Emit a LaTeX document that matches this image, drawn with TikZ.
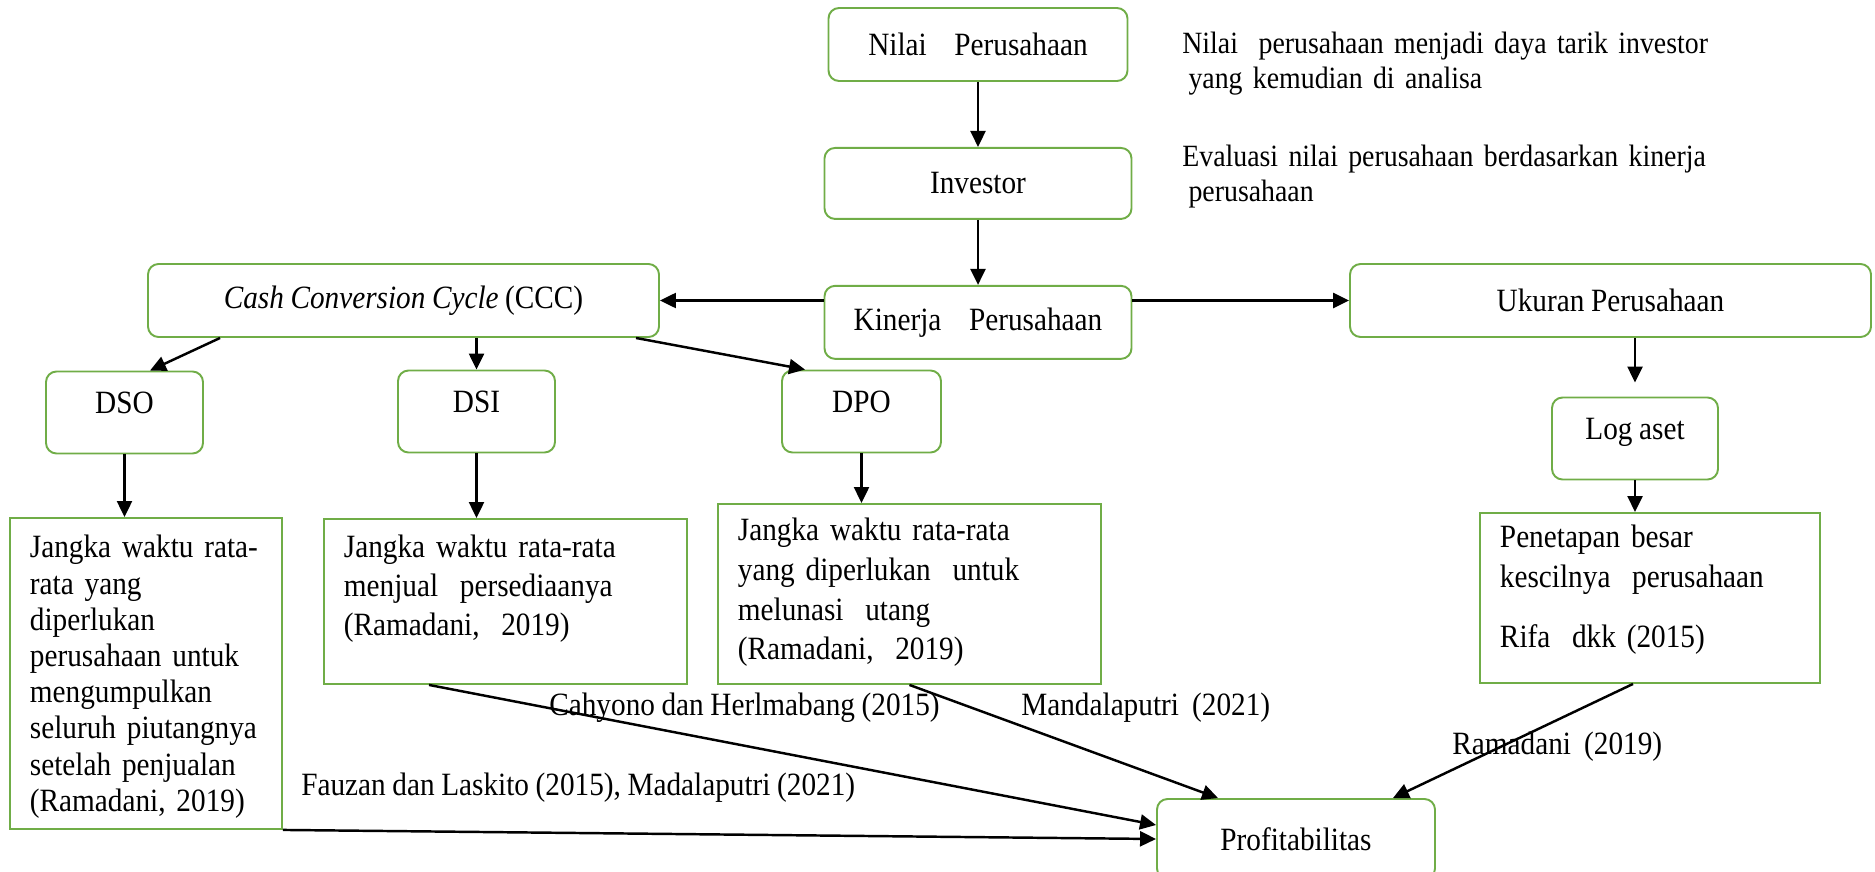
\documentclass[tikz,border=0pt]{standalone}
\usepackage{fontspec}
\setmainfont{Liberation Serif}[FakeStretch=0.9, WordSpace=0.9]
\usepackage{tikz}
\usetikzlibrary{arrows.meta, positioning}
\definecolor{boxgreen}{RGB}{112,173,71}

\begin{document}
\begin{tikzpicture}[
    node distance=1.3cm,
    font=\fontsize{18.5}{20}\selectfont,
    rbox/.style={rectangle, rounded corners=6pt, draw=boxgreen, line width=1.1pt,
                 minimum height=1.46cm, align=center},
    sbox/.style={rbox, inner ysep=0pt, text height=0.84cm, text depth=0.8cm},
    dbox/.style={rectangle, draw=boxgreen, line width=1.1pt, anchor=north west,
                 align=left, inner xsep=0.4cm, inner ysep=0pt},
    note/.style={inner sep=0pt, anchor=west},
    arr/.style={-{Triangle[length=3.2mm, width=3mm]}, line width=1.4pt}
]
\useasboundingbox (0,0) rectangle (37.5,-17.44);
% main column
\node[rbox, minimum width=5.98cm] (nilai) at (19.56,-0.89) {Nilai\hspace{0.85em}Perusahaan};
\node[rbox, minimum width=6.14cm, minimum height=1.42cm, below=of nilai] (investor) {Investor};
\node[rbox, minimum width=6.14cm, below=of investor] (kinerja) {Kinerja\hspace{0.85em}Perusahaan};
\node[rbox, minimum width=10.22cm] (ccc) at (8.07,-6.01) {\textit{Cash Conversion Cycle} (CCC)};
\node[rbox, minimum width=10.42cm] (ukuran) at (32.21,-6.01) {Ukuran Perusahaan};
% indicators
\node[sbox, minimum width=3.14cm] (dso) at (2.49,-8.25) {DSO};
\node[sbox, minimum width=3.14cm] (dsi) at (9.53,-8.23) {DSI};
\node[sbox, minimum width=3.18cm] (dpo) at (17.23,-8.23) {DPO};
\node[sbox, minimum width=3.32cm] (logaset) at (32.7,-8.77) {Log aset};
% descriptions
\node[dbox, text width=4.64cm, text height=0.8cm, text depth=5.42cm,
      font=\fontsize{18.5}{20.6}\selectfont] (dsoket) at (0.18,-10.34)
  {Jangka waktu rata-\\ rata yang\\ diperlukan\\ perusahaan untuk\\ mengumpulkan\\
   seluruh piutangnya\\ setelah penjualan\\ (Ramadani, 2019)};
\node[dbox, text width=6.46cm, text height=0.78cm, text depth=2.52cm,
      font=\fontsize{18.5}{22.1}\selectfont] (dsiket) at (6.46,-10.36)
  {Jangka waktu rata-rata\\ menjual~~persediaanya\\ (Ramadani,~~2019)};
\node[dbox, text width=6.86cm, text height=0.74cm, text depth=2.86cm,
      font=\fontsize{18.5}{22.5}\selectfont] (dpoket) at (14.34,-10.06)
  {Jangka waktu rata-rata\\ yang diperlukan~~untuk\\ melunasi~~utang\\ (Ramadani,~~2019)};
\node[dbox, text width=6.0cm, text height=0.7cm, text depth=2.7cm,
      font=\fontsize{18.5}{22.7}\selectfont] (penetapan) at (29.58,-10.24)
  {Penetapan besar\\ kescilnya~~perusahaan\\[0.4cm] Rifa~~dkk (2015)};
\node[rbox, minimum width=5.56cm, minimum height=1.6cm] (profit) at (25.92,-16.78) {Profitabilitas};
% notes
\node[note, anchor=base west, text width=11cm, align=left,
      font=\fontsize{17.6}{19.9}\selectfont] (catnilai) at (23.64,-1.08)
  {Nilai\ \ perusahaan menjadi daya tarik investor\\ \hspace*{0.2em}yang kemudian di analisa};
\node[note, anchor=base west, text width=11cm, align=left,
      font=\fontsize{17.6}{19.9}\selectfont] (catinvestor) at (23.64,-3.34)
  {Evaluasi nilai perusahaan berdasarkan kinerja\\ \hspace*{0.2em}perusahaan};
\node[note] (lbcahyono) at (10.98,-14.16) {Cahyono dan Herlmabang (2015)};
\node[note] (lbfauzan) at (6.02,-15.76) {Fauzan dan Laskito (2015), Madalaputri (2021)};
\node[note] (lbmandala) at (20.42,-14.16) {Mandalaputri~~(2021)};
\node[note] (lbramadani) at (29.04,-14.94) {Ramadani~~(2019)};
% connectors
\draw[arr] (nilai) -- (investor);
\draw[arr] (investor) -- (kinerja);
\draw[arr] (kinerja.west |- ccc) -- (ccc.east);
\draw[arr] (kinerja.east |- ukuran) -- (ukuran.west);
\draw[arr] ([xshift=1.46cm]ccc.south west) -- ([xshift=0.51cm]dso.north);
\draw[arr] (ccc.south -| dsi.north) -- (dsi.north);
\draw[arr] ([xshift=-0.48cm]ccc.south east) -- ([xshift=0.48cm]dpo.north west);
\draw[arr] (dso.south) -- (dso.south |- dsoket.north);
\draw[arr] (dsi.south) -- (dsi.south |- dsiket.north);
\draw[arr] (dpo.south) -- (dpo.south |- dpoket.north);
\draw[arr, shorten >=0.28cm] (ukuran.south -| logaset.north) -- (logaset.north);
\draw[arr] (logaset.south) -- (logaset.south |- penetapan.north);
\draw[arr] (dsoket.south east) -- (profit.west);
\draw[arr] ([xshift=2.12cm]dsiket.south west) -- ([yshift=0.28cm]profit.west);
\draw[arr] (dpoket.south) -- ([xshift=1.24cm]profit.north west);
\draw[arr] ([xshift=-0.34cm]penetapan.south) -- ([xshift=-0.86cm]profit.north east);
\end{tikzpicture}
\end{document}
